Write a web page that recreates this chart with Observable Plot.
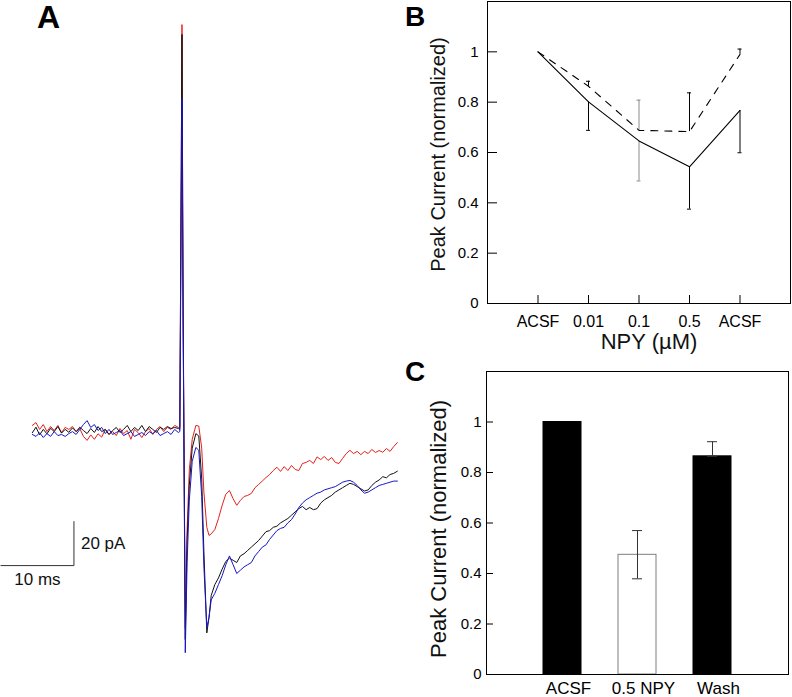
<!DOCTYPE html>
<html><head><meta charset="utf-8">
<script src="https://cdn.jsdelivr.net/npm/d3@7"></script>
<script src="https://cdn.jsdelivr.net/npm/@observablehq/plot@0.6"></script>
<style>
body{margin:0;background:#fff;}
#wrap{position:relative;width:792px;height:697px;overflow:hidden;font-family:"Liberation Sans",Arial,sans-serif;background:#fff;}
.panel{position:absolute;}
.lab{position:absolute;font-weight:bold;line-height:1;color:#000;font-family:"Liberation Sans",Arial,sans-serif;}
</style></head><body>
<div id="wrap">
 <div class="panel" id="pa" style="left:0px;top:0px"></div>
 <div class="panel" id="pb" style="left:400px;top:0px"></div>
 <div class="panel" id="pc" style="left:400px;top:340px"></div>
 <div class="lab" style="left:37px;top:1px;font-size:32px">A</div>
 <div class="lab" style="left:405px;top:3px;font-size:28px">B</div>
 <div class="lab" style="left:405px;top:358px;font-size:28px">C</div>
</div>
<script>
// ---------- Panel A: current traces (time in ms, current in pA) ----------
const tPre = [-20.5,-20,-19.5,-19,-18.5,-18,-17.5,-17,-16.5,-16,-15.5,-15,-14.5,-14,-13.5,-13,-12.5,-12,-11.5,-11,-10.5,-10,-9.5,-9,-8.5,-8,-7.5,-7,-6.5,-6,-5.5,-5,-4.5,-4,-3.5,-3,-2.5,-2,-1.5,-1,-0.5];
const tArt = [-0.3,0,0.15,0.45,0.7,1.0,1.4,1.9,2.3,2.7,3.0,3.4,3.7];
const tPost = [4,4.5,5,5.5,6,6.5,7,7.5,8,8.5,9,9.5,10,10.5,11,11.5,12,12.5,13,13.5,14,14.5,15,15.5,16,16.5,17,17.5,18,18.5,19,19.5,20,20.5,21,21.5,22,22.5,23,23.5,24,24.5,25,25.5,26,26.5,27,27.5,28,28.5,29,29.5];

const redPre = [2.3,3.6,0.5,2.7,-0.5,1.8,0,2.3,-1,1.4,0.5,1.8,-0.5,0.9,-2.7,-4.5,-2,-4,-1.5,-3,0.5,-1.8,-0.5,-2.3,0.9,-1.4,0,-4,0.5,-1,-3.2,-0.5,0.9,-1.8,0.5,1.8,-0.5,1.4,0.5,2.3,1.4];
const redArt = [1.5,184.5,60,-90,-45,-18,-4,2.3,2.0,-8,-28,-44,-47.7];
const redPost = [-47,-45,-40,-34,-29,-27.3,-31,-34,-31.8,-30,
  -29.5,-28.6,-26,-24.5,-23,-21.4,-20,-18.2,-16.7,-18.6,
  -16.4,-18.2,-15.9,-17.7,-18.2,-15,-14.5,-13.6,-15,-12,
  -13.2,-11.8,-13.6,-12.3,-14.5,-15,-12.7,-10.5,-9,-10.5,
  -9.5,-11,-9.5,-10.5,-8.6,-10,-9.1,-9.9,-8.2,-9.5,
  -7.3,-5.5];

const blackPre = [-1,1.5,-2,0.5,-1.5,1,-0.5,1.8,-1.2,0.5,-0.8,1.2,-0.5,1.5,0,-1.4,0.9,-0.9,1.8,-0.5,0.5,-1.8,0,1.4,-0.9,0.5,2.3,-0.5,1.4,0,2.3,-0.5,1.8,0.5,-0.9,1.4,0.5,1.8,0.9,1.4,0.9];
const blackArt = [0.5,180,55,-95,-50,-25,-8,-1.4,-2.5,-22,-55,-92,-85];
const blackPost = [-75,-70,-67,-63,-59.5,-58,-59,-60,-57,-56,
  -54.5,-53,-51.5,-50,-48,-46,-45.5,-44,-43.5,-42,
  -41,-40,-38.5,-37,-35.5,-34.5,-36,-35,-36,-35.5,
  -33,-31.5,-30.5,-29.5,-28,-27,-26,-25,-24,-24.5,
  -25.5,-26.5,-27.5,-27,-25,-23.5,-22.5,-21,-21.5,-20,
  -19.5,-18.5];

const bluePre = [-1.8,-2.7,-1,-3.2,-1.4,-2.7,-0.5,-2.3,-1.8,-2.7,-1.4,-0.5,-1.8,0.5,2.7,4.5,1.4,2.7,0,1.4,-1.4,0.5,-1.8,-0.9,0,-2.3,-1.4,-0.5,-2.7,-1.8,-0.9,-2.3,-0.5,-1.4,0,-2.3,-1.4,-0.5,-1.8,0.5,-0.9];
const blueArt = [-0.5,151,50,-101,-60,-32,-14,-7.7,-9,-30,-62,-89.5,-85];
const bluePost = [-77,-74,-70,-66,-61,-57,-61,-65,-63.5,-62,
  -61,-60,-57,-55,-53,-52,-49.5,-47.5,-45.5,-44.5,
  -44,-42,-40.5,-38,-35,-33,-31.5,-30.5,-29.5,-28.5,
  -28,-27,-26.5,-26,-25.5,-24.5,-23.5,-23,-22.7,-23.5,
  -25,-27,-28.5,-28,-27,-26,-25,-24.5,-24,-23.5,
  -23,-23];

const traceColors = {red: "#e3201b", black: "#111111", blue: "#1616c8"};
const scaleBar = {t0: -14.8, i0: -61.4, ms: 10, pA: 20};

// ---------- Panel B ----------
const bConc = ["ACSF","0.01","0.1","0.5","ACSF"];
const bSolid = [1.0, 0.801, 0.646, 0.543, 0.767];
const bSolidLo = [null, 0.688, 0.487, 0.375, 0.599];
const bDashed = [1.0, 0.863, 0.688, 0.683, 0.99];
const bDashedHi = [null, 0.883, 0.808, 0.837, 1.011];
const bErrColor = [null, "#000000", "#8a8a8a", "#000000", "#000000"];
const yTicks = [0, 0.2, 0.4, 0.6, 0.8, 1];

// ---------- Panel C ----------
const cCats = ["ACSF","0.5 NPY","Wash"];
const cVals = [1.0, 0.474, 0.864];
const cLo = [null, 0.379, 0.864];
const cHi = [null, 0.570, 0.922];
const cFill = ["#000000","#ffffff","#000000"];
const cStroke = ["#000000","#7f7f7f","#000000"];

const FONT = "'Liberation Sans', Arial, sans-serif";

// ---- build A ----
const times = tPre.concat(tArt, tPost);
const mk = (arr) => times.map((t, i) => ({t, v: arr[i]}));
const red = mk(redPre.concat(redArt, redPost));
const black = mk(blackPre.concat(blackArt, blackPost));
const blue = mk(bluePre.concat(blueArt, bluePost));
const sb = [
  {t: scaleBar.t0 - scaleBar.ms, v: scaleBar.i0},
  {t: scaleBar.t0, v: scaleBar.i0},
  {t: scaleBar.t0, v: scaleBar.i0 + scaleBar.pA}
];

const plotA = Plot.plot({
  width: 400, height: 697, margin: 0,
  x: {domain: [-24.86, 29.93], axis: null},
  y: {domain: [-121.36, 195.45], axis: null},
  style: {background: "none", fontFamily: FONT, overflow: "visible"},
  marks: [
    Plot.line(red, {x: "t", y: "v", stroke: traceColors.red, strokeWidth: 1}),
    Plot.line(black, {x: "t", y: "v", stroke: traceColors.black, strokeWidth: 1}),
    Plot.line(blue, {x: "t", y: "v", stroke: traceColors.blue, strokeWidth: 1}),
    Plot.line(sb, {x: "t", y: "v", stroke: "#333", strokeWidth: 1}),
    Plot.text([`${scaleBar.pA} pA`], {x: scaleBar.t0, y: scaleBar.i0 + scaleBar.pA / 2, text: d => d, textAnchor: "start", dx: 7, fontSize: 17, fill: "#111"}),
    Plot.text([`${scaleBar.ms} ms`], {x: scaleBar.t0 - scaleBar.ms / 2, y: scaleBar.i0, text: d => d, dy: 14, fontSize: 17, fill: "#111"})
  ]
});
document.getElementById("pa").append(plotA);

// ---- build B ----
const bRows = bConc.map((c, i) => ({pos: i + 1, c, solid: bSolid[i], lo: bSolidLo[i], dashed: bDashed[i], hi: bDashedHi[i], col: bErrColor[i]}));
const bErr = bRows.filter(d => d.lo != null);
const xTickPos = bRows.map(d => d.pos);

const plotB = Plot.plot({
  width: 392, height: 360,
  marginLeft: 87, marginRight: 2, marginTop: 1, marginBottom: 57,
  x: {domain: [0, 6]},
  y: {domain: [0, 1.2]},
  color: {type: "identity"},
  style: {background: "none", fontFamily: FONT, overflow: "visible"},
  marks: [
    Plot.frame({stroke: "#000"}),
    Plot.ruleY(yTicks, {y: d => d, insetRight: 302 - 9, stroke: "#000"}),
    Plot.ruleX(xTickPos, {x: d => d, insetTop: 302 - 8, stroke: "#000"}),
    Plot.axisY({ticks: yTicks, tickSize: 0, tickPadding: 9, tickFormat: d => String(d), fontSize: 15, label: null}),
    Plot.axisX({ticks: xTickPos, tickSize: 0, tickPadding: 12, tickFormat: p => bConc[p - 1], fontSize: 16, label: null}),
    Plot.ruleX(bErr, {x: "pos", y1: "solid", y2: "lo", stroke: "col"}),
    Plot.ruleY(bErr, {y: "lo", x1: "pos", x2: "pos", insetLeft: -2, insetRight: -2, stroke: "col"}),
    Plot.ruleX(bErr, {x: "pos", y1: "dashed", y2: "hi", stroke: "col"}),
    Plot.ruleY(bErr, {y: "hi", x1: "pos", x2: "pos", insetLeft: -2, insetRight: -2, stroke: "col"}),
    Plot.line(bRows, {x: "pos", y: "solid", stroke: "#000", strokeWidth: 1.1}),
    Plot.line(bRows, {x: "pos", y: "dashed", stroke: "#000", strokeWidth: 1.1, strokeDasharray: "7,7"}),
    Plot.text(["Peak Current (normalized)"], {frameAnchor: "left", text: d => d, rotate: -90, textAnchor: "middle", lineAnchor: "top", dx: -57, dy: 2, fontSize: 20, fill: "#111"}),
    Plot.text(["NPY (\u00b5M)"], {frameAnchor: "bottom", text: d => d, textAnchor: "middle", lineAnchor: "top", dx: 10, dy: 30, fontSize: 22, fill: "#111"})
  ]
});
document.getElementById("pb").append(plotB);

// ---- build C ----
const cRows = cCats.map((c, i) => ({cat: c, val: cVals[i], lo: cLo[i], hi: cHi[i], fill: cFill[i], stroke: cStroke[i]}));
const cErr = cRows.filter(d => d.lo != null);

const plotC = Plot.plot({
  width: 392, height: 357,
  marginLeft: 86, marginRight: 4, marginTop: 31, marginBottom: 23,
  x: {type: "band", domain: cCats, paddingInner: 0.497, paddingOuter: 0.7485},
  y: {domain: [0, 1.2]},
  color: {type: "identity"},
  style: {background: "none", fontFamily: FONT, overflow: "visible"},
  marks: [
    Plot.barY(cRows, {x: "cat", y: "val", fill: "fill", stroke: "stroke", strokeWidth: 1}),
    Plot.ruleX(cErr, {x: "cat", y1: "lo", y2: "hi", stroke: "#333"}),
    Plot.tickY(cErr, {x: "cat", y: "hi", insetLeft: 14, insetRight: 14, stroke: "#333"}),
    Plot.tickY(cErr, {x: "cat", y: "lo", insetLeft: 14, insetRight: 14, stroke: "#333"}),
    Plot.frame({stroke: "#000"}),
    Plot.ruleY(yTicks, {y: d => d, insetRight: 302 - 7, stroke: "#000"}),
    Plot.axisY({ticks: yTicks, tickSize: 0, tickPadding: 5, tickFormat: d => String(d), fontSize: 15, label: null}),
    Plot.axisX({tickSize: 0, tickPadding: 7, dx: 6, fontSize: 17, label: null}),
    Plot.text(["Peak Current (normalized)"], {frameAnchor: "left", text: d => d, rotate: -90, textAnchor: "middle", lineAnchor: "top", dx: -56, dy: 6, fontSize: 22, fill: "#111"})
  ]
});
document.getElementById("pc").append(plotC);
</script>
</body></html>
